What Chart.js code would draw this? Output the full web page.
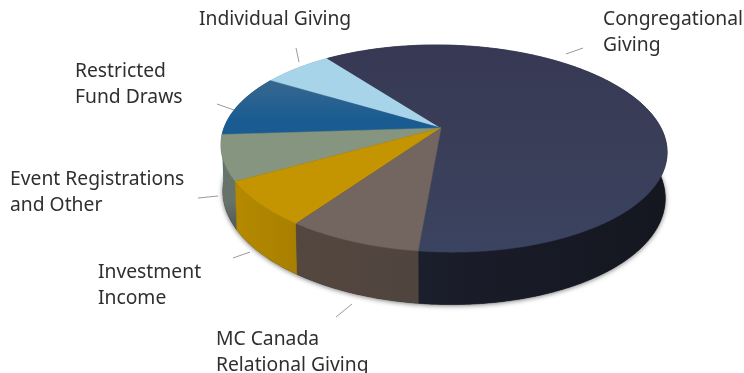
<!DOCTYPE html>
<html>
<head>
<meta charset="utf-8">
<title>Revenue sources</title>
<script src="https://cdn.jsdelivr.net/npm/chart.js@4"></script>
<style>
  html, body { margin: 0; padding: 0; background: #fff; }
  #wrap { position: relative; width: 744px; height: 373px; }
</style>
</head>
<body>
<div id="wrap"><canvas id="pie" width="744" height="373"></canvas></div>
<script>
const categories = ['Congregational Giving', 'MC Canada Relational Giving', 'Investment Income', 'Event Registrations and Other', 'Restricted Fund Draws', 'Individual Giving'];
const shares = [61.7, 8.1, 6.9, 7.1, 9.9, 6.3];

const topColors = ['#3a3e58', '#736560', '#c49500', '#85957f', '#1c5d94', '#a8d4ea'];
const sideColors = ['#1b1e2b', '#50443f', '#a87f00', '#66736a', '#123f66', '#7fa5b8'];
const sideEdgeColors = ['#14171f', '#54473f', '#b58a00', '#5a5f5c', '#123f66', '#7fa5b8'];

// vertical shading on the disc face, stops run from the far rim to the near rim
const faceShades = {
  0: [[0, '#373954'], [0.6, '#3a3f5a'], [1, '#3a4360']],
  4: [[0.2, '#33668f'], [0.36, '#1a5c92']]
};

// label text, anchor of first line, and the leader tick next to it
const callouts = [
  { lines: ['Congregational', 'Giving'], x: 603, y: 25, tick: [566, 54, 583, 48] },
  { lines: ['MC Canada', 'Relational Giving'], x: 216, y: 345, tick: [336, 317, 352, 304] },
  { lines: ['Investment', 'Income'], x: 98, y: 278, tick: [233, 258, 250, 252] },
  { lines: ['Event Registrations', 'and Other'], x: 10, y: 185, tick: [198, 198, 218, 196] },
  { lines: ['Restricted', 'Fund Draws'], x: 75, y: 77, tick: [217, 104, 234, 110] },
  { lines: ['Individual Giving'], x: 199, y: 25, tick: [296, 48, 299, 62] }
];

// tilt of the disc: horizontal stretch, vertical squash, perspective strength
const stretchX = 1.708;
const squashY = 0.777;
const perspectiveY = 0.198;
const perspectiveX = 0.0134;
const roll = 0.015;
// lower rim of the disc
const depth = 45;
const lowerX = 0.992;
const lowerY = 1.06;

function project(arc, angle, sx, sy, dy) {
  const r = arc.outerRadius;
  const u = Math.cos(angle);
  const v = Math.sin(angle);
  const w = 1 - perspectiveY * v - perspectiveX * u;
  const px = (r * stretchX * sx * u) / w;
  const py = (r * squashY * sy * v) / w;
  return { x: arc.x + px, y: arc.y + py + roll * px + dy };
}

function rimAngles(arc) {
  const list = [];
  const steps = Math.max(2, Math.ceil((arc.endAngle - arc.startAngle) / 0.01));
  for (let i = 0; i <= steps; i++) {
    list.push(arc.startAngle + ((arc.endAngle - arc.startAngle) * i) / steps);
  }
  return list;
}

function traceWall(ctx, arc) {
  const angles = rimAngles(arc);
  ctx.beginPath();
  angles.forEach((a, i) => {
    const p = project(arc, a, 1, 1, 0);
    if (i === 0) ctx.moveTo(p.x, p.y);
    else ctx.lineTo(p.x, p.y);
  });
  angles.reverse().forEach((a) => {
    const p = project(arc, a, lowerX, lowerY, depth);
    ctx.lineTo(p.x, p.y);
  });
  ctx.closePath();
}

function traceTop(ctx, arc) {
  ctx.beginPath();
  ctx.moveTo(arc.x, arc.y);
  rimAngles(arc).forEach((a) => {
    const p = project(arc, a, 1, 1, 0);
    ctx.lineTo(p.x, p.y);
  });
  ctx.closePath();
}

function faceFill(ctx, arc, i) {
  const stops = faceShades[i];
  if (!stops) return topColors[i];
  const far = project(arc, -Math.PI / 2, 1, 1, 0).y;
  const near = project(arc, Math.PI / 2, 1, 1, 0).y;
  const g = ctx.createLinearGradient(0, far, 0, near);
  stops.forEach((s) => g.addColorStop(s[0], s[1]));
  return g;
}

// wall colour runs from the hub side of the slice out towards the disc edge
function wallFill(ctx, arc, i) {
  const a = project(arc, arc.startAngle, 1, 1, 0);
  const b = project(arc, arc.endAngle, 1, 1, 0);
  const c = project(arc, arc.startAngle, lowerX, lowerY, depth);
  if (i === 3) {
    const g = ctx.createLinearGradient(0, a.y + 20, 0, c.y - 10);
    g.addColorStop(0, sideColors[i]);
    g.addColorStop(1, sideEdgeColors[i]);
    return g;
  }
  const x0 = i === 0 ? b.x : a.x;
  const x1 = project(arc, 0, 1, 1, 0).x;
  const g = ctx.createLinearGradient(x0, 0, i === 0 ? x1 : b.x, 0);
  g.addColorStop(0, sideColors[i]);
  g.addColorStop(1, sideEdgeColors[i]);
  return g;
}

const tiltedPie = {
  id: 'tiltedPie',
  beforeDatasetsDraw(chart) {
    const ctx = chart.ctx;
    const arcs = chart.getDatasetMeta(0).data;
    const mid = (a) => Math.sin((a.startAngle + a.endAngle) / 2);
    const order = arcs.map((a, i) => i).sort((p, q) => mid(arcs[p]) - mid(arcs[q]));

    // soft shadow along the lower edge
    ctx.save();
    ctx.shadowColor = 'rgba(0,0,0,0.55)';
    ctx.shadowBlur = 5;
    ctx.shadowOffsetY = 1;
    ctx.fillStyle = '#1b1e2b';
    ctx.beginPath();
    for (let i = 0; i <= 360; i++) {
      const p = project(arcs[0], (i * Math.PI) / 180, lowerX, lowerY, depth);
      if (i === 0) ctx.moveTo(p.x, p.y);
      else ctx.lineTo(p.x, p.y);
    }
    ctx.closePath();
    ctx.fill();
    ctx.restore();

    order.forEach((i) => {
      traceWall(ctx, arcs[i]);
      ctx.fillStyle = wallFill(ctx, arcs[i], i);
      ctx.strokeStyle = ctx.fillStyle;
      ctx.lineWidth = 0.5;
      ctx.fill();
      ctx.stroke();
    });
    order.forEach((i) => {
      traceTop(ctx, arcs[i]);
      ctx.fillStyle = faceFill(ctx, arcs[i], i);
      ctx.strokeStyle = ctx.fillStyle;
      ctx.lineWidth = 0.5;
      ctx.fill();
      ctx.stroke();
    });
    return false;
  },
  afterDraw(chart) {
    const ctx = chart.ctx;
    ctx.save();
    callouts.forEach((c) => {
      ctx.strokeStyle = '#999';
      ctx.lineWidth = 1;
      ctx.beginPath();
      ctx.moveTo(c.tick[0], c.tick[1]);
      ctx.lineTo(c.tick[2], c.tick[3]);
      ctx.stroke();
      ctx.fillStyle = '#2f2f2f';
      ctx.font = '19.3px "Noto Sans"';
      ctx.textBaseline = 'alphabetic';
      c.lines.forEach((line, i) => ctx.fillText(line, c.x, c.y + i * 26));
    });
    ctx.restore();
  }
};

new Chart(document.getElementById('pie'), {
  type: 'pie',
  data: {
    labels: categories,
    datasets: [{ data: shares, backgroundColor: topColors, borderWidth: 0 }]
  },
  options: {
    responsive: false,
    animation: false,
    rotation: 322.7,
    // puts the hub of the pie where the disc sits on the page
    layout: { padding: { left: 138, bottom: 117 } },
    plugins: { legend: { display: false }, tooltip: { enabled: false } }
  },
  plugins: [tiltedPie]
});
</script>
</body>
</html>
